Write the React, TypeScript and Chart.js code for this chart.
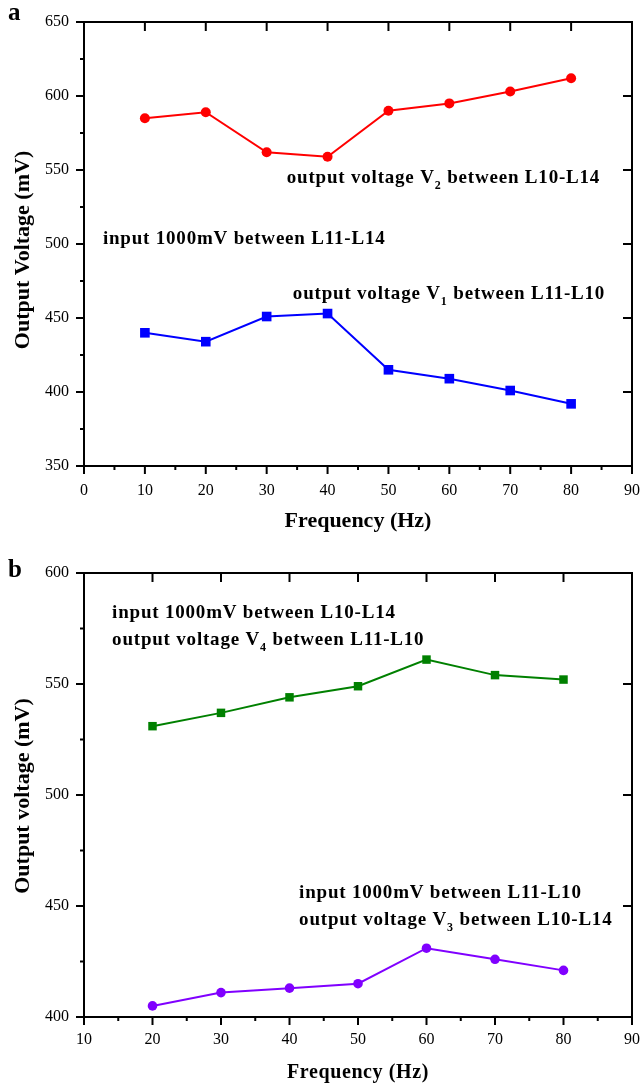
import React, { useEffect, useRef } from 'react';
import { Chart, registerables } from 'chart.js';

Chart.register(...registerables);

// ---------- Data ----------
const freqA = [10, 20, 30, 40, 50, 60, 70, 80];
const v2A = [585, 589, 562, 559, 590, 595, 603, 612];
const v1A = [440, 434, 451, 453, 415, 409, 401, 392];
const xTicksA = [0, 10, 20, 30, 40, 50, 60, 70, 80, 90];
const yTicksA = [350, 400, 450, 500, 550, 600, 650];

const freqB = [20, 30, 40, 50, 60, 70, 80];
const v4B = [531, 537, 544, 549, 561, 554, 552];
const v3B = [405, 411, 413, 415, 431, 426, 421];
const xTicksB = [10, 20, 30, 40, 50, 60, 70, 80, 90];
const yTicksB = [400, 450, 500, 550, 600];

type Seg = { t: string; sub?: boolean };
type Note = { x: number; y: number; segs: Seg[] };

const notesA: Note[] = [
  { x: 33.3, y: 541.2, segs: [{ t: 'output voltage V' }, { t: '2', sub: true }, { t: ' between L10-L14' }] },
  { x: 3.1, y: 499.7, segs: [{ t: 'input 1000mV between L11-L14' }] },
  { x: 34.3, y: 462.8, segs: [{ t: 'output voltage V' }, { t: '1', sub: true }, { t: ' between L11-L10' }] },
];
const notesB: Note[] = [
  { x: 14.1, y: 579.7, segs: [{ t: 'input 1000mV between L10-L14' }] },
  { x: 14.1, y: 567.6, segs: [{ t: 'output voltage V' }, { t: '4', sub: true }, { t: ' between L11-L10' }] },
  { x: 41.4, y: 453.6, segs: [{ t: 'input 1000mV between L11-L10' }] },
  { x: 41.4, y: 441.4, segs: [{ t: 'output voltage V' }, { t: '3', sub: true }, { t: ' between L10-L14' }] },
];

const FONT = '"Liberation Serif", "Times New Roman", serif';

// ---------- Plugins ----------
const framePlugin = {
  id: 'frame',
  afterDraw(chart: any, _args: any, opts: any) {
    const { ctx, chartArea: a, scales } = chart;
    const xs = scales.x, ys = scales.y;
    ctx.save();
    ctx.strokeStyle = '#000';
    ctx.lineWidth = 2;
    ctx.strokeRect(a.left, a.top, a.right - a.left, a.bottom - a.top);
    const line = (x1: number, y1: number, x2: number, y2: number) => {
      ctx.beginPath();
      ctx.moveTo(x1, y1);
      ctx.lineTo(x2, y2);
      ctx.stroke();
    };
    const xMaj = xs.ticks.map((t: any) => t.value);
    const yMaj = ys.ticks.map((t: any) => t.value);
    xMaj.forEach((v: number) => {
      const p = xs.getPixelForValue(v);
      line(p, a.bottom, p, a.bottom + 8);
      if (v !== xs.min && v !== xs.max) line(p, a.top, p, a.top + 9);
    });
    yMaj.forEach((v: number) => {
      const p = ys.getPixelForValue(v);
      line(a.left - 8, p, a.left, p);
      if (v !== ys.min && v !== ys.max) line(a.right - 9, p, a.right, p);
    });
    for (let v = xs.min + opts.minorX; v < xs.max; v += opts.minorX) {
      if (xMaj.includes(v)) continue;
      const p = xs.getPixelForValue(v);
      line(p, a.bottom, p, a.bottom + 4);
    }
    for (let v = ys.min + opts.minorY; v < ys.max; v += opts.minorY) {
      if (yMaj.includes(v)) continue;
      const p = ys.getPixelForValue(v);
      line(a.left - 4, p, a.left, p);
    }
    ctx.restore();
  },
};

const textPlugin = {
  id: 'texts',
  afterDraw(chart: any, _args: any, opts: any) {
    const { ctx, chartArea: a, scales } = chart;
    const xs = scales.x, ys = scales.y;
    ctx.save();
    ctx.fillStyle = '#000';
    ctx.textBaseline = 'alphabetic';
    ctx.textAlign = 'left';
    // annotations
    (opts.notes as Note[]).forEach((n) => {
      let x = xs.getPixelForValue(n.x);
      const y = ys.getPixelForValue(n.y);
      n.segs.forEach((s) => {
        ctx.font = s.sub ? `bold 12px ${FONT}` : `bold 19px ${FONT}`;
        (ctx as any).letterSpacing = s.sub ? '0px' : '0.8px';
        ctx.fillText(s.t, x, s.sub ? y + 6 : y);
        x += ctx.measureText(s.t).width + (s.sub ? 1 : 0);
      });
    });
    (ctx as any).letterSpacing = '0px';
    // panel letter
    ctx.font = `bold 25px ${FONT}`;
    ctx.fillText(opts.panel, 8, opts.panelY);
    // axis titles
    ctx.textAlign = 'center';
    ctx.textBaseline = 'middle';
    ctx.font = `bold ${opts.xTitleSize}px ${FONT}`;
    (ctx as any).letterSpacing = opts.xTitleSpacing;
    ctx.fillText(opts.xTitle, (a.left + a.right) / 2, opts.xTitleY);
    (ctx as any).letterSpacing = '0px';
    ctx.save();
    ctx.translate(23, opts.yTitleY);
    ctx.rotate(-Math.PI / 2);
    ctx.font = `bold 22px ${FONT}`;
    ctx.fillText(opts.yTitle, 0, 0);
    ctx.restore();
    ctx.restore();
  },
};

// ---------- Chart factory ----------
function makeChart(
  canvas: HTMLCanvasElement,
  cfg: {
    datasets: any[];
    xTicks: number[];
    yTicks: number[];
    padTop: number;
    xAxisH: number;
    xPad: number;
    notes: Note[];
    panel: string;
    panelY: number;
    xTitle: string;
    xTitleY: number;
    xTitleSize: number;
    xTitleSpacing: string;
    yTitle: string;
    yTitleY: number;
  }
) {
  const tickFont = { family: FONT, size: 16, weight: 'normal' as const };
  return new Chart(canvas, {
    type: 'line',
    data: { datasets: cfg.datasets },
    plugins: [framePlugin, textPlugin],
    options: {
      responsive: false,
      animation: false,
      devicePixelRatio: 1,
      layout: { padding: { top: cfg.padTop, right: 10, left: 0, bottom: 0 } },
      plugins: {
        legend: { display: false },
        tooltip: { enabled: false },
        frame: { minorX: 5, minorY: 25 },
        texts: {
          notes: cfg.notes,
          panel: cfg.panel,
          panelY: cfg.panelY,
          xTitle: cfg.xTitle,
          xTitleY: cfg.xTitleY,
          xTitleSize: cfg.xTitleSize,
          xTitleSpacing: cfg.xTitleSpacing,
          yTitle: cfg.yTitle,
          yTitleY: cfg.yTitleY,
        },
      } as any,
      scales: {
        x: {
          type: 'linear',
          min: cfg.xTicks[0],
          max: cfg.xTicks[cfg.xTicks.length - 1],
          grid: { display: false, drawTicks: false },
          border: { display: false },
          afterBuildTicks: (s: any) => {
            s.ticks = cfg.xTicks.map((v) => ({ value: v }));
          },
          afterFit: (s: any) => {
            s.height = cfg.xAxisH;
            s.paddingLeft = 0;
            s.paddingRight = 0;
          },
          ticks: { font: tickFont, color: '#000', padding: cfg.xPad, autoSkip: false, maxRotation: 0 },
        },
        y: {
          type: 'linear',
          min: cfg.yTicks[0],
          max: cfg.yTicks[cfg.yTicks.length - 1],
          grid: { display: false, drawTicks: false },
          border: { display: false },
          afterBuildTicks: (s: any) => {
            s.ticks = cfg.yTicks.map((v) => ({ value: v }));
          },
          afterFit: (s: any) => {
            s.width = 84;
            s.paddingTop = 0;
            s.paddingBottom = 0;
          },
          ticks: { font: tickFont, color: '#000', padding: 15, autoSkip: false },
        },
      },
    } as any,
  });
}

const series = (xs: number[], ys: number[], color: string, style: string, r: number) => ({
  data: xs.map((x, i) => ({ x, y: ys[i] })),
  borderColor: color,
  backgroundColor: color,
  pointBackgroundColor: color,
  pointBorderColor: color,
  pointBorderWidth: 0,
  pointStyle: style,
  pointRadius: r,
  borderWidth: 2,
  tension: 0,
});

export default function App() {
  const refA = useRef<HTMLCanvasElement>(null);
  const refB = useRef<HTMLCanvasElement>(null);

  useEffect(() => {
    const a = makeChart(refA.current!, {
      datasets: [
        series(freqA, v2A, '#ff0000', 'circle', 5),
        series(freqA, v1A, '#0000ff', 'rect', 6.8),
      ],
      xTicks: xTicksA,
      yTicks: yTicksA,
      padTop: 22,
      xAxisH: 74,
      xPad: 15,
      notes: notesA,
      panel: 'a',
      panelY: 20,
      xTitle: 'Frequency (Hz)',
      xTitleY: 521,
      xTitleSize: 22,
      xTitleSpacing: '0px',
      yTitle: 'Output Voltage (mV)',
      yTitleY: 250,
    });
    const b = makeChart(refB.current!, {
      datasets: [
        series(freqB, v4B, '#008000', 'rect', 6),
        series(freqB, v3B, '#8000ff', 'circle', 4.8),
      ],
      xTicks: xTicksB,
      yTicks: yTicksB,
      padTop: 33,
      xAxisH: 69,
      xPad: 13,
      notes: notesB,
      panel: 'b',
      panelY: 37,
      xTitle: 'Frequency (Hz)',
      xTitleY: 533,
      xTitleSize: 20,
      xTitleSpacing: '0.6px',
      yTitle: 'Output voltage (mV)',
      yTitleY: 256,
    });
    return () => {
      a.destroy();
      b.destroy();
    };
  }, []);

  return (
    <div style={{ position: 'absolute', left: 0, top: 0, width: 642, height: 1086, background: '#fff' }}>
      <canvas ref={refA} width={642} height={540} style={{ display: 'block', width: 642, height: 540 }} />
      <canvas ref={refB} width={642} height={546} style={{ display: 'block', width: 642, height: 546 }} />
    </div>
  );
}
